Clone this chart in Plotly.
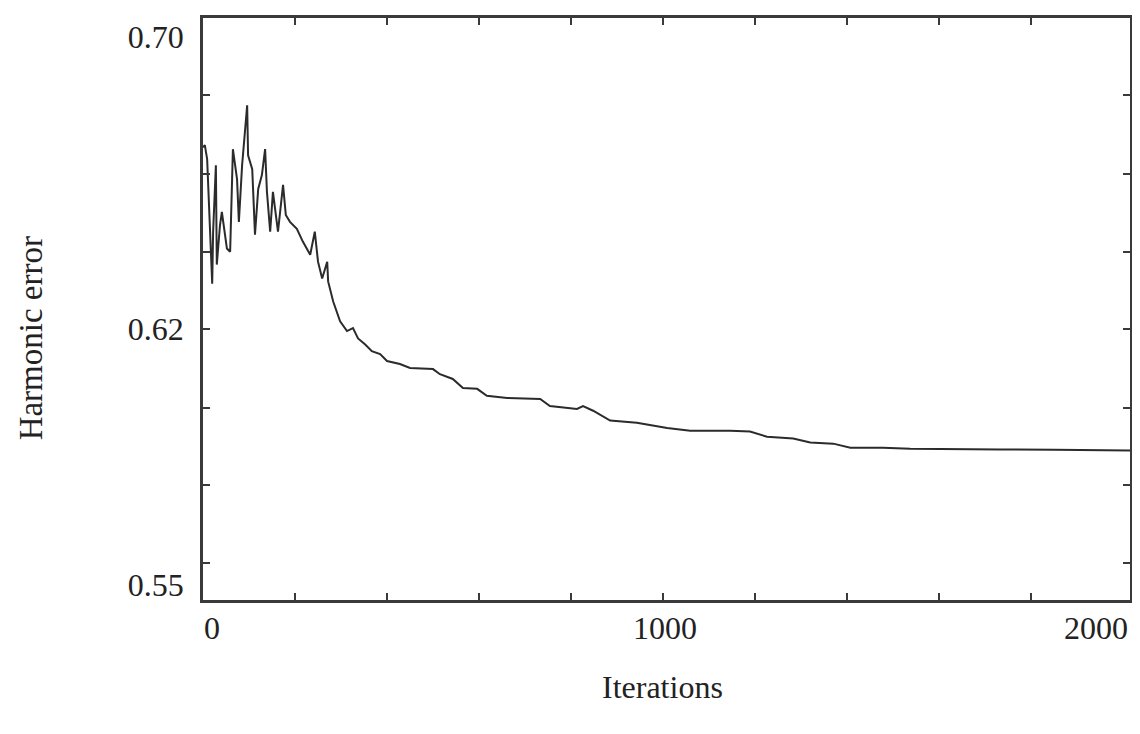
import plotly.graph_objects as go

# Data
iterations = [0, 4, 9, 15, 20, 22, 28, 30, 37, 41, 52, 59, 65, 74, 78, 85, 91, 96, 98,
              107, 113, 120, 128, 135, 139, 146, 152, 163, 174, 180, 189, 204, 217, 233,
              243, 250, 259, 270, 272, 283, 298, 313, 326, 337, 352, 367, 385, 400, 428,
              450, 500, 515, 543, 565, 596, 617, 661, 733, 754, 813, 826, 848, 885, 943,
              1009, 1059, 1146, 1189, 1226, 1283, 1320, 1370, 1407, 1478, 1537, 1624,
              1733, 1850, 2015]
harmonic_error = [0.6698, 0.6704, 0.6666, 0.6502, 0.6325, 0.6467, 0.6649, 0.6377, 0.6486,
                  0.6521, 0.6421, 0.6412, 0.6693, 0.6611, 0.6494, 0.6649, 0.6739, 0.6813,
                  0.6676, 0.6638, 0.6459, 0.6584, 0.6622, 0.6693, 0.6576, 0.6467, 0.6576,
                  0.6467, 0.6595, 0.6513, 0.6494, 0.6475, 0.6440, 0.6404, 0.6467, 0.6385,
                  0.6339, 0.6385, 0.6331, 0.6276, 0.6222, 0.6195, 0.6203, 0.6175, 0.6159,
                  0.6140, 0.6132, 0.6113, 0.6105, 0.6094, 0.6091, 0.6077, 0.6064, 0.6039,
                  0.6037, 0.6018, 0.6012, 0.6009, 0.5990, 0.5982, 0.5990, 0.5977, 0.5950,
                  0.5944, 0.5930, 0.5922, 0.5922, 0.5920, 0.5906, 0.5901, 0.5890, 0.5887,
                  0.5876, 0.5876, 0.5873, 0.5873, 0.5871, 0.5870, 0.5868]

y_label_vals = [0.55, 0.62, 0.70]
y_label_text = ["0.55", "0.62", "0.70"]
y_tick_marks = [0.5560, 0.5773, 0.5985, 0.62, 0.6412, 0.6625, 0.6840]
x_label_vals = [0, 1000, 2000]
x_label_text = ["0", "1000", "2000"]
x_tick_marks = [200, 400, 600, 800, 1000, 1200, 1400, 1600, 1800]

x_range = [0, 2015]
y_range = [0.5459, 0.7052]

font_family = "Liberation Serif, Times New Roman, serif"
axis_color = "#3a3a3a"
text_color = "#222222"

fig = go.Figure()
fig.add_trace(go.Scatter(x=iterations, y=harmonic_error, mode="lines",
                         line=dict(color="#2b2b2b", width=2),
                         showlegend=False, hoverinfo="skip"))
# invisible trace on the tick-mark axes
fig.add_trace(go.Scatter(x=[x_range[0]], y=[y_range[0]], mode="markers",
                         marker=dict(opacity=0), xaxis="x2", yaxis="y2",
                         showlegend=False, hoverinfo="skip"))

fig.update_layout(
    width=1132, height=726,
    margin=dict(l=195, r=10, t=7, b=134),
    paper_bgcolor="white", plot_bgcolor="white",
    font=dict(family=font_family, size=32, color=text_color),
    xaxis=dict(range=x_range, tickvals=x_label_vals, ticktext=["", "", ""],
               ticks="", showgrid=False, zeroline=False,
               showline=True, linecolor=axis_color, linewidth=2.5, mirror=True),
    yaxis=dict(range=y_range, tickvals=y_label_vals, ticktext=y_label_text,
               ticks="", showgrid=False, zeroline=False, ticklabelstandoff=10,
               showline=True, linecolor=axis_color, linewidth=2.5, mirror=True),
    xaxis2=dict(range=x_range, overlaying="x", anchor="y2", side="bottom",
                tickvals=x_tick_marks, ticks="inside", ticklen=7, tickwidth=2,
                tickcolor=axis_color, mirror="ticks", showticklabels=False,
                showgrid=False, zeroline=False, showline=False),
    yaxis2=dict(range=y_range, overlaying="y", anchor="x2", side="left",
                tickvals=y_tick_marks, ticks="inside", ticklen=7, tickwidth=2,
                tickcolor=axis_color, mirror="ticks", showticklabels=False,
                showgrid=False, zeroline=False, showline=False),
)

# x tick labels
for v, t in zip(x_label_vals, x_label_text):
    anchor = "right" if v == x_label_vals[-1] else "center"
    shift = 7 if v == x_label_vals[-1] else (9 if v == 0 else 2)
    fig.add_annotation(x=v, y=0, xref="x", yref="paper", text=t, showarrow=False,
                       xanchor=anchor, yanchor="top", yshift=-8, xshift=shift,
                       font=dict(size=32, family=font_family, color=text_color))

# axis titles
fig.add_annotation(x=0.496, y=-0.150, xref="paper", yref="paper", text="Iterations",
                   showarrow=False, xanchor="center", yanchor="middle",
                   font=dict(size=32, family=font_family, color=text_color))
fig.add_annotation(x=-0.1855, y=0.4496, xref="paper", yref="paper", text="Harmonic error",
                   showarrow=False, textangle=-90, xanchor="center", yanchor="middle",
                   font=dict(size=33, family=font_family, color=text_color))

fig.write_html("out.html")
